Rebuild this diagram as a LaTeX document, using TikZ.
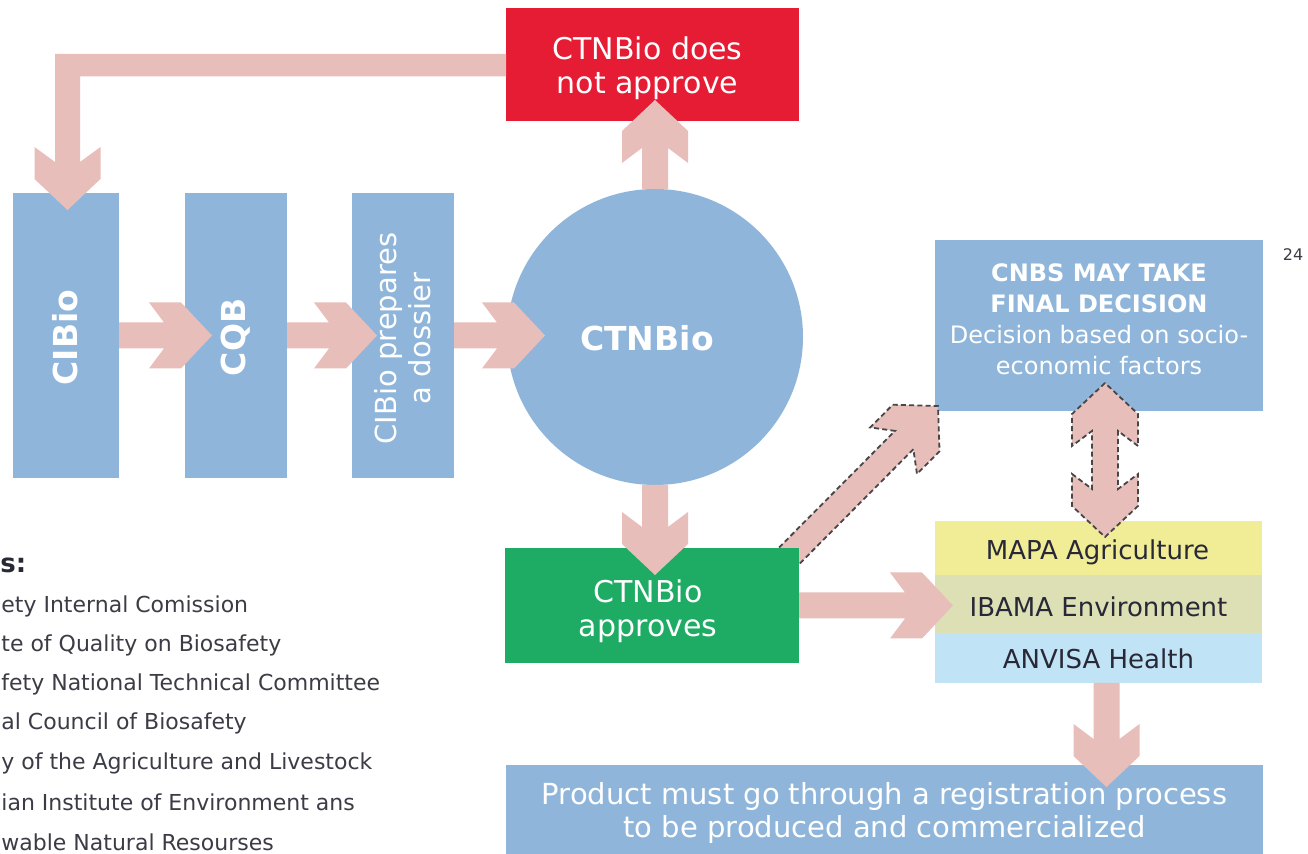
\documentclass[tikz,border=0pt]{standalone}
\usepackage{fontspec}
\setmainfont{DejaVu Sans}
\usetikzlibrary{calc}
\definecolor{boxblue}{RGB}{143,182,218}
\definecolor{arrowpink}{RGB}{232,190,186}
\definecolor{nored}{RGB}{230,27,52}
\definecolor{yesgreen}{RGB}{30,172,100}
\definecolor{mapay}{RGB}{241,237,150}
\definecolor{ibamag}{RGB}{221,224,180}
\definecolor{anvisab}{RGB}{192,228,246}
\definecolor{legendtxt}{RGB}{60,60,70}
\definecolor{darktxt}{RGB}{40,40,55}
\definecolor{dashgray}{RGB}{70,70,70}
\pgfdeclarelayer{boxes}\pgfdeclarelayer{arrows}\pgfsetlayers{boxes,arrows,main}
\tikzset{
  boxnode/.style={rectangle, inner sep=0pt, outer sep=0pt},
  bluebox/.style={boxnode, fill=boxblue},
  arrowbody/.style={fill=arrowpink},
  dashedarrow/.style={draw=dashgray, dash pattern=on 2.5pt off 1.6pt, line width=0.9pt},
  wlbl/.style={text=white, align=center, inner sep=0pt},
  dlbl/.style={text=darktxt, align=center, inner sep=0pt},
  legend/.style={text=legendtxt, anchor=west, inner sep=0pt, font=\fontsize{11}{13}\selectfont}
}
\newcommand\fatgeom[2]{%
  \path let \p1=#1, \p2=#2 in \pgfextra{%
    \pgfmathsetmacro\fatang{atan2((\y2)-(\y1),(\x2)-(\x1))}%
    \pgfmathsetmacro\fatlen{veclen((\x2)-(\x1),(\y2)-(\y1))}%
    \xdef\fatang{\fatang}\xdef\fatlen{\fatlen}%
    \xdef\fatx{\x1}\xdef\faty{\y1}};}
\newcommand\fatarrow[3][]{%
  \fatgeom{#2}{#3}%
  \begin{scope}[shift={(\fatx,\faty)},rotate=\fatang,x=1pt,y=1pt]
    \fill[arrowbody] (0,-6.5) -- ({\fatlen-24},-6.5) -- ({\fatlen-31.5},-16.5) -- ({\fatlen-15.5},-16.5) -- (\fatlen,0) -- ({\fatlen-15.5},16.5) -- ({\fatlen-31.5},16.5) -- ({\fatlen-24},6.5) -- (0,6.5) -- cycle;
    \path[#1] (0,-6.5) -- ({\fatlen-24},-6.5) -- ({\fatlen-31.5},-16.5) -- ({\fatlen-15.5},-16.5) -- (\fatlen,0) -- ({\fatlen-15.5},16.5) -- ({\fatlen-31.5},16.5) -- ({\fatlen-24},6.5) -- (0,6.5);
  \end{scope}}
\newcommand\fatdarrow[3][]{%
  \fatgeom{#2}{#3}%
  \begin{scope}[shift={(\fatx,\faty)},rotate=\fatang,x=1pt,y=1pt]
    \path[arrowbody,#1] (0,0) -- (15.5,-16.5) -- (31.5,-16.5) -- (24,-6.5) -- ({\fatlen-24},-6.5) -- ({\fatlen-31.5},-16.5) -- ({\fatlen-15.5},-16.5) -- (\fatlen,0) -- ({\fatlen-15.5},16.5) -- ({\fatlen-31.5},16.5) -- ({\fatlen-24},6.5) -- (24,6.5) -- (31.5,16.5) -- (15.5,16.5) -- cycle;
  \end{scope}}
\begin{document}
\begin{tikzpicture}[x=0.5pt,y=-0.5pt]
\useasboundingbox (0,0) rectangle (1308,854);
\begin{pgfonlayer}{boxes}
  \fill[white] (0,0) rectangle (1308,854);
  \node[boxnode, fill=nored, minimum width=146.5pt, minimum height=56.5pt] (red) at (652.5,64.5) {};
  \node[bluebox, minimum width=53pt, minimum height=142.5pt] (cibio) at (66,335.5) {};
  \node[bluebox, minimum width=51pt, minimum height=142.5pt] (cqb) at (236,335.5) {};
  \node[bluebox, minimum width=51pt, minimum height=142.5pt] (dossier) at (403,335.5) {};
  \node[circle, fill=boxblue, inner sep=0pt, outer sep=0pt, minimum size=148pt] (ctn) at (655,337) {};
  \node[bluebox, minimum width=164pt, minimum height=85.5pt] (cnbs) at (1099,325.5) {};
  \node[boxnode, fill=mapay, minimum width=163.5pt, minimum height=27pt] (mapa) at (1098.5,548) {};
  \node[boxnode, fill=ibamag, minimum width=163.5pt, minimum height=29pt] (ibama) at (1098.5,604) {};
  \node[boxnode, fill=anvisab, minimum width=163.5pt, minimum height=25pt] (anvisa) at (1098.5,658) {};
  \node[bluebox, minimum width=378.5pt, minimum height=44.5pt] (bottom) at (884.5,809.5) {};
  \coordinate (greenNE) at (799,548);
  \fatarrow[dashedarrow]{($(greenNE)+(-14,12)$)}{($(cnbs.south west)+(3,-5)$)}
  \node[boxnode, fill=yesgreen, minimum width=147pt, minimum height=57.5pt] (green) at (652,605.5) {};
\end{pgfonlayer}
\begin{pgfonlayer}{arrows}
  % return arrow from "does not approve" to CIBio
  \coordinate (rtip) at ($(cibio.north)+(1.5,17)$);
  \coordinate (rc) at (rtip |- red.west);
  \fill[arrowbody] ($(red.west)+(0,-10.5)$) -- ($(rc)+(-12.5,-10.5)$) -- ($(rtip)+(-12.5,-48)$) -- ($(rtip)+(-33,-63)$) -- ($(rtip)+(-33,-31)$) -- (rtip) -- ($(rtip)+(33,-31)$) -- ($(rtip)+(33,-63)$) -- ($(rtip)+(12.5,-48)$) -- ($(rc)+(12.5,12)$) -- ($(red.west)+(0,12)$) -- cycle;
  \fatarrow{(cibio.east)}{($(cqb.west)+(27,0)$)}
  \fatarrow{(cqb.east)}{($(dossier.west)+(25,0)$)}
  \fatarrow{(dossier.east)}{($(dossier.east -| ctn.west)+(38,0)$)}
  \fatarrow{(ctn.north)}{($(ctn.north |- red.south)+(0,-21)$)}
  \fatarrow{(ctn.south)}{($(ctn.south |- green.north)+(0,27)$)}
  \fatarrow{(green.east)}{($(green.east -| ibama.west)+(18,0)$)}
  \fatdarrow[dashedarrow]{($(cnbs.south)+(6,-28)$)}{($(mapa.north)+(6.5,16)$)}
  \fatarrow{($(anvisa.south)+(8,0)$)}{($(anvisa.south |- bottom.north)+(8,22)$)}
\end{pgfonlayer}
% texts
\node[wlbl, font=\fontsize{15}{17}\selectfont] (redt) at ($(red.center)+(-5,4)$) {CTNBio does\\not approve};
\node[wlbl, rotate=90, font=\bfseries\fontsize{16.5}{19}\selectfont] (cibiot) at ($(cibio.center)+(-1,2)$) {CIBio};
\node[wlbl, rotate=90, font=\bfseries\fontsize{16.5}{19}\selectfont] (cqbt) at ($(cqb.center)+(0,2)$) {CQB};
\node[wlbl, rotate=90, font=\fontsize{14.5}{17}\selectfont] (dossiert) at ($(dossier.center)+(0,3)$) {CIBio prepares\\a dossier};
\node[wlbl, font=\bfseries\fontsize{16.5}{19}\selectfont] (ctnt) at ($(ctn.center)+(-8,1)$) {CTNBio};
\node[wlbl, font=\fontsize{15}{17}\selectfont] (greent) at ($(green.center)+(-4,5.5)$) {CTNBio\\approves};
\node[wlbl, font=\fontsize{12}{15.5}\selectfont] (cnbst) at ($(cnbs.center)+(0,-6)$) {\textbf{CNBS MAY TAKE}\\\textbf{FINAL DECISION}\\Decision based on socio-\\economic factors};
\node[dlbl, font=\fontsize{13}{15}\selectfont] (mapat) at ($(mapa.center)+(-1,4)$) {MAPA Agriculture};
\node[dlbl, font=\fontsize{13}{15}\selectfont] (ibamat) at ($(ibama.center)+(0,3)$) {IBAMA Environment};
\node[dlbl, font=\fontsize{13}{15}\selectfont] (anvisat) at ($(anvisa.center)+(0,1)$) {ANVISA Health};
\node[wlbl, font=\fontsize{14.5}{16.5}\selectfont] (bottomt) at ($(bottom.center)+(0,4)$) {Product must go through a registration process\\to be produced and commercialized};
\node[text=legendtxt, inner sep=0pt, font=\fontsize{8}{10}\selectfont] (pagenum) at (1293,255) {24};
\node[text=darktxt, anchor=west, inner sep=0pt, font=\bfseries\fontsize{13}{15}\selectfont] (lg0) at (0,565) {s:};
\node[legend] (lg1) at (1,606) {ety Internal Comission};
\node[legend] (lg2) at (1,645) {te of Quality on Biosafety};
\node[legend] (lg3) at (1,684) {fety National Technical Committee};
\node[legend] (lg4) at (1,723) {al Council of Biosafety};
\node[legend] (lg5) at (1,763) {y of the Agriculture and Livestock};
\node[legend] (lg6) at (1,802) {ian Institute of Environment ans};
\node[legend] (lg7) at (1,842) {wable Natural Resourses};
\end{tikzpicture}
\end{document}
